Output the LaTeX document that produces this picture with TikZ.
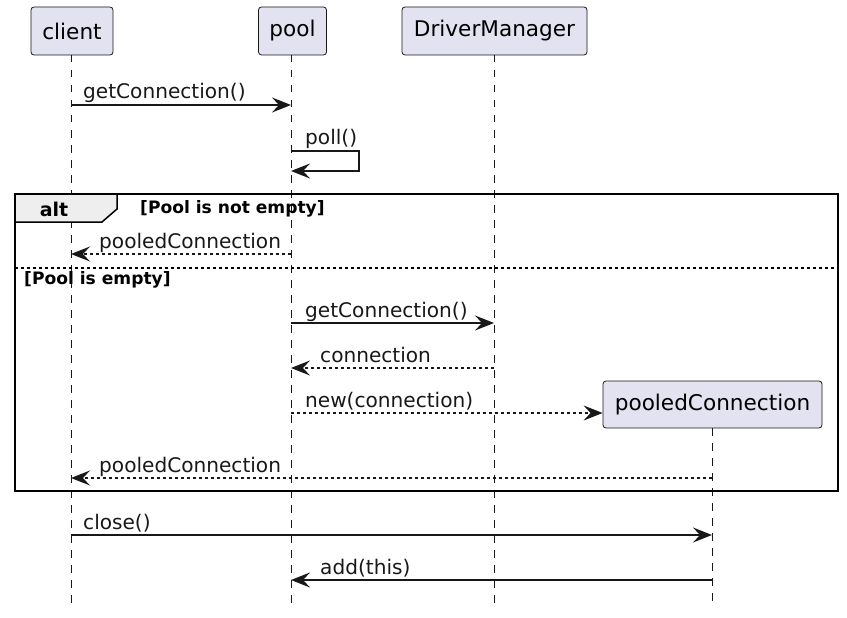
\documentclass[tikz,border=0pt]{standalone}
\usepackage{fontspec}
\setmainfont{DejaVu Sans}
\usetikzlibrary{arrows.meta}
\definecolor{ink}{HTML}{181818}
\definecolor{partfill}{HTML}{E2E2F0}
\definecolor{tabfill}{HTML}{EEEEEE}
\begin{document}
\begin{tikzpicture}[x=1pt,y=-1pt,
  part/.style={draw=ink, fill=partfill, rounded corners=3pt, line width=0.8pt,
    inner sep=0pt, minimum height=48pt, font=\fontsize{21.6}{26}\selectfont},
  life/.style={draw=ink, line width=0.8pt, dash pattern=on 7.5pt off 7.5pt},
  msg/.style={draw=ink, line width=1.5pt, -{Stealth[length=19pt,width=15pt,inset=7pt]}},
  reply/.style={msg, dash pattern=on 3pt off 3pt},
  lbl/.style={anchor=base west, inner sep=0pt, text=ink, font=\fontsize{20.1}{24}\selectfont},
  guard/.style={anchor=base west, inner sep=0pt, text=black, font=\fontsize{17.1}{20}\bfseries},
]
\useasboundingbox (0,0) rectangle (847,618);

% participants
\node[part, minimum width=82pt]  (client) at (72,31)    {client};
\node[part, minimum width=68pt]  (pool)   at (292.5,31) {pool};
\node[part, minimum width=185pt] (dm)     at (494.5,31) {DriverManager};
\node[part, minimum width=219pt, minimum height=47pt] (pc) at (712.5,404.5) {pooledConnection};

% lifelines
\coordinate (cTop) at (71,55);   \coordinate (cBot) at (71,608);
\coordinate (pTop) at (291,55);  \coordinate (pBot) at (291,608);
\coordinate (dTop) at (494,55);  \coordinate (dBot) at (494,608);
\coordinate (qTop) at (712,428); \coordinate (qBot) at (712,608);
\draw[life] (cTop) -- (cBot);
\draw[life] (pTop) -- (pBot);
\draw[life] (dTop) -- (dBot);
\draw[life] (qTop) -- (qBot);

% alt fragment
\coordinate (fTL) at (15,194);
\coordinate (fBR) at (838,491);
\draw[line width=2.6pt, draw=black] (fTL) rectangle (fBR);
\draw[line width=1.5pt, draw=black, fill=tabfill]
  (15,194) -- (117,194) -- (117,209) -- (102,222) -- (15,222) -- cycle;
\draw[line width=2.6pt, draw=black] (15,194) -- (117,194);
\node[anchor=base, inner sep=0pt, font=\fontsize{19}{22}\bfseries] (altlbl) at (54,216) {alt};
\node[guard] (g1) at (140,213) {[Pool is not empty]};
\coordinate (sepL) at (15,268);
\coordinate (sepR) at (838,268);
\draw[draw=black, line width=1.2pt, dash pattern=on 3pt off 3pt] (sepL) -- (sepR);
\node[guard] (g2) at (24,284) {[Pool is empty]};

% message anchors on the lifelines
\coordinate (c1) at (71,105);  \coordinate (p1) at (291,105);
\coordinate (p2) at (291,151); \coordinate (s2a) at (359,151);
\coordinate (s2b) at (359,171); \coordinate (p2b) at (291,171);
\coordinate (p3) at (291,254); \coordinate (c3) at (71,254);
\coordinate (p4) at (291,323); \coordinate (d4) at (494,323);
\coordinate (d5) at (494,368); \coordinate (p5) at (291,368);
\coordinate (p6) at (291,413);
\coordinate (q7) at (712,478); \coordinate (c7) at (71,478);
\coordinate (c8) at (71,535);  \coordinate (q8) at (712,535);
\coordinate (q9) at (712,580); \coordinate (p9) at (291,580);

% messages
\draw[msg] (c1) -- (p1);
\node[lbl] (m1) at (83,99) {getConnection()};

\draw[msg] (p2) -- (s2a) -- (s2b) -- (p2b);
\node[lbl] (m2) at (305,145) {poll()};

\draw[reply] (p3) -- (c3);
\node[lbl] (m3) at (99,248) {pooledConnection};

\draw[msg] (p4) -- (d4);
\node[lbl] (m4) at (305,317) {getConnection()};

\draw[reply] (d5) -- (p5);
\node[lbl] (m5) at (320,362) {connection};

\draw[reply] (p6) -- (pc.west |- p6);
\node[lbl] (m6) at (305,407) {new(connection)};

\draw[reply] (q7) -- (c7);
\node[lbl] (m7) at (99,472) {pooledConnection};

\draw[msg] (c8) -- (q8);
\node[lbl] (m8) at (83,529) {close()};

\draw[msg] (q9) -- (p9);
\node[lbl] (m9) at (320,574) {add(this)};
\end{tikzpicture}
\end{document}
